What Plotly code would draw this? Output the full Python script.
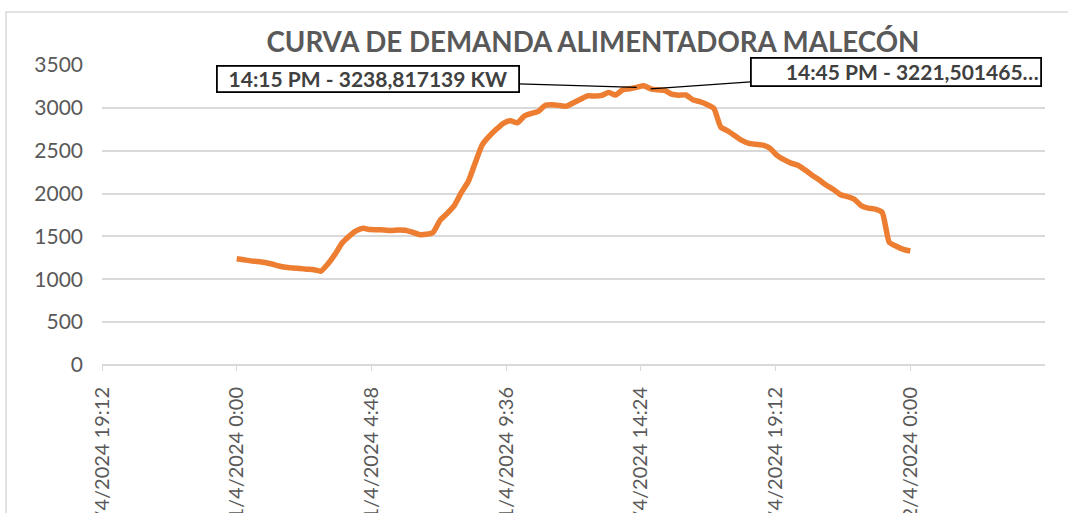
import pandas as pd
import plotly.graph_objects as go

# demand every 15 min, 11/4/2024 00:00 -> 12/4/2024 00:00 (kW)
START = "2024-04-11 00:00"
DEMAND_KW = [
    1240, 1228, 1215, 1207, 1195, 1178, 1155, 1140,
    1132, 1125, 1118, 1112, 1095, 1180, 1290, 1420,
    1500, 1565, 1595, 1580, 1578, 1575, 1570, 1575,
    1572, 1550, 1522, 1525, 1548, 1690, 1770, 1860,
    2010, 2140, 2360, 2570, 2670, 2750, 2820, 2850,
    2825, 2905, 2935, 2960, 3030, 3035, 3028, 3020,
    3060, 3100, 3140, 3138, 3145, 3180, 3150, 3210,
    3222, 3238.817139, 3258, 3221.501465, 3210, 3205, 3160, 3148,
    3150, 3095, 3072, 3040, 2995, 2775, 2730, 2675,
    2620, 2585, 2575, 2565, 2530, 2445, 2395, 2355,
    2330, 2275, 2215, 2160, 2100, 2050, 1990, 1965,
    1935, 1860, 1830, 1818, 1780, 1430, 1385, 1350,
    1330,
]

TICK_TIMES = ["2024-04-10 19:12", "2024-04-11 00:00", "2024-04-11 04:48",
              "2024-04-11 09:36", "2024-04-11 14:24", "2024-04-11 19:12",
              "2024-04-12 00:00"]
TICK_LABELS = ["10/4/2024 19:12", "11/4/2024 0:00", "11/4/2024 4:48",
               "11/4/2024 9:36", "11/4/2024 14:24", "11/4/2024 19:12",
               "12/4/2024 0:00"]
X_RANGE = ["2024-04-10 19:12", "2024-04-12 04:48"]

ANNOT_TIMES = ["2024-04-11 14:15", "2024-04-11 14:45"]
ANNOT_TEXT = ["14:15 PM - 3238,817139 KW", "14:45 PM - 3221,501465…"]

TITLE = "CURVA DE DEMANDA ALIMENTADORA MALECÓN"

FONT = "Lato, 'Open Sans', sans-serif"
GRAY = "#595959"
GRID = "#d9d9d9"

times = pd.date_range(START, periods=len(DEMAND_KW), freq="15min")
series = pd.Series(DEMAND_KW, index=times)

fig = go.Figure()
fig.add_trace(go.Scatter(
    x=times, y=DEMAND_KW, mode="lines",
    line=dict(color="#ed7d31", width=5.5, shape="spline", smoothing=0.5),
    showlegend=False,
))

# callout boxes with leader lines
offsets = [(-269, -8), (245, -17)]
widths = [298, 286]
heights = [22, 24]
aligns = ["center", "right"]
for t, txt, (ax, ay), w, h, al in zip(ANNOT_TIMES, ANNOT_TEXT, offsets, widths, heights, aligns):
    fig.add_annotation(
        x=t, y=series[pd.Timestamp(t)], text=f"<b>{txt}</b>",
        showarrow=True, arrowhead=0, arrowwidth=1.3, arrowcolor="black",
        ax=ax, ay=ay, width=w, height=h, align=al,
        bgcolor="white", bordercolor="black", borderwidth=1.8, borderpad=1,
        font=dict(family=FONT, size=21, color="#404040"),
    )

# outer chart border
fig.add_shape(type="rect", xref="paper", yref="paper",
              x0=-0.1018, x1=1.2, y0=-0.8, y1=1.1767,
              line=dict(color=GRID, width=1.5), layer="below")

fig.update_layout(
    width=1068, height=513,
    margin=dict(l=102, r=23, t=65, b=148),
    paper_bgcolor="white", plot_bgcolor="white",
    title=dict(text=f"<b>{TITLE}</b>", x=593 / 1068, xanchor="center",
               y=1 - 42 / 513, yanchor="middle",
               font=dict(family=FONT, size=27.7, color=GRAY)),
    font=dict(family=FONT, color=GRAY),
)
fig.update_xaxes(
    range=X_RANGE, tickvals=TICK_TIMES, ticktext=TICK_LABELS,
    tickangle=-90, showgrid=False, zeroline=False,
    showline=False, ticks="outside", ticklen=5, tickcolor=GRID,
    ticklabelstandoff=8, automargin=False,
    tickfont=dict(family=FONT, size=20, color=GRAY),
)
fig.update_yaxes(
    range=[0, 3500], dtick=500, showgrid=True, gridcolor=GRID, gridwidth=1.5,
    zeroline=True, zerolinecolor=GRID, zerolinewidth=1.5,
    ticks="", ticklabelstandoff=18, automargin=False,
    tickfont=dict(family=FONT, size=21, color=GRAY),
)

# drop the default page margin so the figure sits at the window corner
fig.write_html("out.html", config={"displayModeBar": False},
               post_script="document.body.style.margin='0';")
